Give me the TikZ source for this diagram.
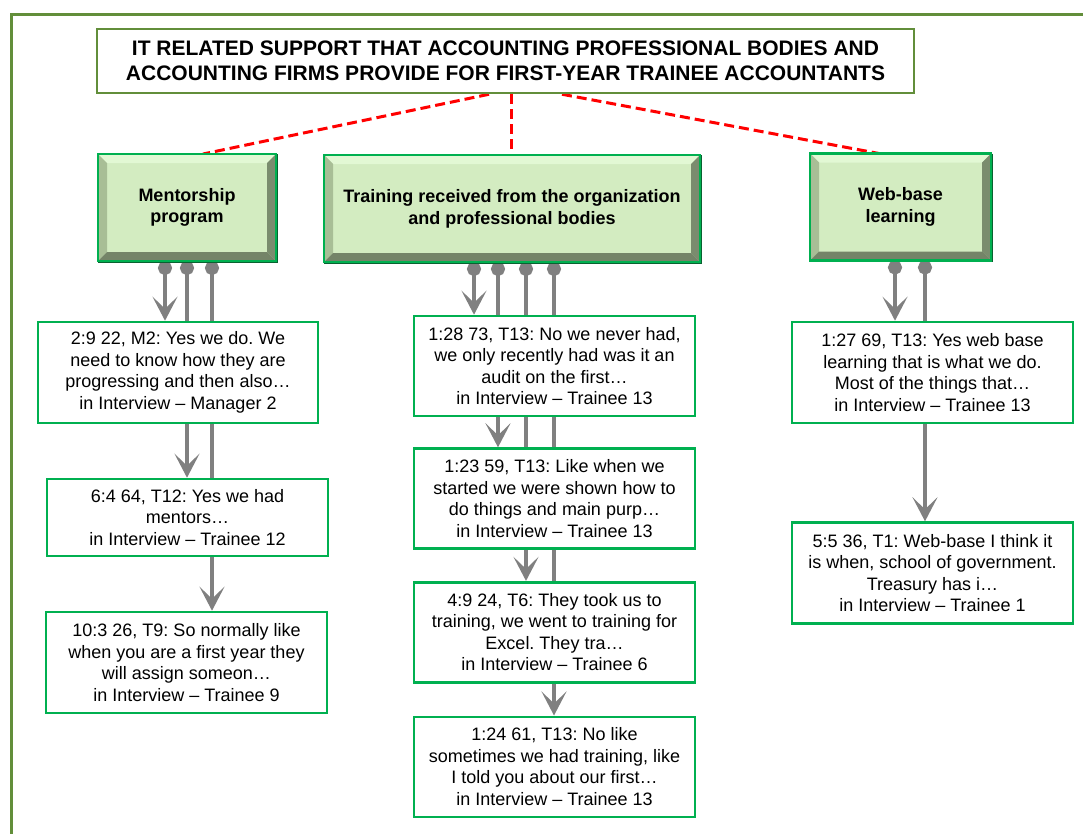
\documentclass[tikz,border=0pt]{standalone}
\usepackage{fontspec}
\setmainfont{Liberation Sans}
\usepackage{xcolor}
\usetikzlibrary{positioning,arrows.meta,backgrounds}
\frenchspacing

\definecolor{framegreen}{RGB}{98,142,58}
\definecolor{boxgreen}{RGB}{0,176,80}
\definecolor{edgegreen}{RGB}{8,98,48}
\definecolor{facegreen}{RGB}{211,236,193}
\definecolor{bevtop}{RGB}{226,248,212}
\definecolor{bevleft}{RGB}{168,190,150}
\definecolor{bevright}{RGB}{122,140,110}
\definecolor{bevbottom}{RGB}{116,132,104}
\definecolor{linkgray}{RGB}{128,128,128}

\tikzset{
  titlebox/.style={draw=framegreen, line width=2.5pt, fill=white, inner sep=0pt,
    minimum width=817pt, minimum height=64pt, align=center,
    font=\bfseries\fontsize{21}{25}\selectfont},
  catbox/.style={draw=boxgreen, line width=2.5pt, fill=facegreen, outer sep=0pt,
    inner sep=0pt, minimum height=107pt, align=center,
    font=\bfseries\fontsize{18}{21.7}\selectfont,
    path picture={
      \fill[bevtop] (path picture bounding box.north west) -- (path picture bounding box.north east)
        -- ([shift={(-9pt,-9pt)}]path picture bounding box.north east)
        -- ([shift={(9pt,-9pt)}]path picture bounding box.north west) -- cycle;
      \fill[bevleft] (path picture bounding box.north west) -- (path picture bounding box.south west)
        -- ([shift={(9pt,9pt)}]path picture bounding box.south west)
        -- ([shift={(9pt,-9pt)}]path picture bounding box.north west) -- cycle;
      \fill[bevright] (path picture bounding box.north east) -- (path picture bounding box.south east)
        -- ([shift={(-9pt,9pt)}]path picture bounding box.south east)
        -- ([shift={(-9pt,-9pt)}]path picture bounding box.north east) -- cycle;
      \fill[bevbottom] (path picture bounding box.south west) -- (path picture bounding box.south east)
        -- ([shift={(-9pt,9pt)}]path picture bounding box.south east)
        -- ([shift={(9pt,9pt)}]path picture bounding box.south west) -- cycle;
    },
    append after command={\pgfextra{
      \draw[edgegreen, line width=3pt] (\tikzlastnode.north east) -- (\tikzlastnode.south east)
        -- (\tikzlastnode.south west);}
    }},
  qbox/.style={draw=boxgreen, line width=2.6pt, fill=white, inner sep=0pt,
    minimum width=281pt, minimum height=101pt, align=center,
    font=\fontsize{18}{21.5}\selectfont},
  gline/.style={draw=linkgray, line width=4.5pt,
    {Circle[length=14pt]}-{Stealth[length=24pt,width=25pt,inset=12pt]}},
  redlink/.style={draw=red, line width=3pt, dash pattern=on 10pt off 5pt}
}

\begin{document}
\begin{tikzpicture}[x=1pt,y=-1pt]
\useasboundingbox (0,0) rectangle (1083,833);
\begin{scope}
\clip (0,0) rectangle (1083,833);
\draw[framegreen, line width=3pt] (11,14) rectangle (1120,870);
\end{scope}

% heading
\coordinate (top) at (505.5,61);
\node (title) at (top)[titlebox]{IT RELATED SUPPORT THAT ACCOUNTING PROFESSIONAL BODIES AND\\ACCOUNTING FIRMS PROVIDE FOR FIRST-YEAR TRAINEE ACCOUNTANTS};

% categories
\coordinate (c1) at (187,207.5);
\node (ment) at (c1)[catbox, minimum width=178pt]{Mentorship\\program};

\coordinate (c2) at (512,208.5);
\node (train) at (c2)[catbox, minimum width=376pt]{Training received from the organization\\and professional bodies};

\coordinate (c3) at (900.5,207);
\node (web) at (c3)[catbox, minimum width=181pt]{Web-base\\learning};

% mentorship quotes
\coordinate (m1) at (178,372.5);
\node (mq1) at (m1)[qbox, minimum width=280pt]{2:9 22, M2: Yes we do. We\\need to know how they are\\progressing and then also…\\in Interview – Manager 2};

\coordinate (m2) at (187.5,517.5);
\node (mq2) at (m2)[qbox, minimum height=77pt]{6:4 64, T12: Yes we had\\mentors…\\in Interview – Trainee 12};

\coordinate (m3) at (186.5,662.5);
\node (mq3) at (m3)[qbox]{10:3 26, T9: So normally like\\when you are a first year they\\will assign someon…\\in Interview – Trainee 9};

% training quotes
\coordinate (t1) at (554.5,366);
\node (tq1) at (t1)[qbox, minimum height=100pt]{1:28 73, T13: No we never had,\\we only recently had was it an\\audit on the first…\\in Interview – Trainee 13};
\node (tq2) [qbox, minimum height=100pt, below=30pt of tq1]{1:23 59, T13: Like when we\\started we were shown how to\\do things and main purp…\\in Interview – Trainee 13};
\node (tq3) [qbox, minimum height=100pt, below=31pt of tq2]{4:9 24, T6: They took us to\\training, we went to training for\\Excel. They tra…\\in Interview – Trainee 6};
\node (tq4) [qbox, minimum height=100pt, below=32pt of tq3]{1:24 61, T13: No like\\sometimes we had training, like\\I told you about our first…\\in Interview – Trainee 13};

% web-base quotes
\coordinate (w1) at (932.5,372.5);
\node (wq1) at (w1)[qbox]{1:27 69, T13: Yes web base\\learning that is what we do.\\Most of the things that…\\in Interview – Trainee 13};
\node (wq2) [qbox, below=97pt of wq1]{5:5 36, T1: Web-base I think it\\is when, school of government.\\Treasury has i…\\in Interview – Trainee 1};

% links behind the boxes
\begin{scope}[on background layer]
\draw[redlink] ([xshift=-16.5pt]title.south) -- ([xshift=16pt]ment.north);
\draw[redlink] ([xshift=5.5pt]title.south) -- ([xshift=-1pt]train.north);
\draw[redlink] ([xshift=56.5pt]title.south) -- ([xshift=-21.5pt]web.north);

\coordinate (ma) at ([xshift=-22pt]ment.south);
\coordinate (mb) at ([xshift=0pt]ment.south);
\coordinate (mc) at ([xshift=25pt]ment.south);
\draw[gline] (ma) -- (ma |- mq1.north);
\draw[gline] (mb) -- (mb |- mq2.north);
\draw[gline] (mc) -- (mc |- mq3.north);

\coordinate (ta) at ([xshift=-38pt]train.south);
\coordinate (tb) at ([xshift=-14pt]train.south);
\coordinate (tc) at ([xshift=14pt]train.south);
\coordinate (td) at ([xshift=42pt]train.south);
\draw[gline] (ta) -- (ta |- tq1.north);
\draw[gline] (tb) -- (tb |- tq2.north);
\draw[gline] (tc) -- (tc |- tq3.north);
\draw[gline] (td) -- (td |- tq4.north);

\coordinate (wa) at ([xshift=-5.5pt]web.south);
\coordinate (wb) at ([xshift=24.5pt]web.south);
\draw[gline] (wa) -- (wa |- wq1.north);
\draw[gline] (wb) -- (wb |- wq2.north);
\end{scope}
\end{tikzpicture}
\end{document}
